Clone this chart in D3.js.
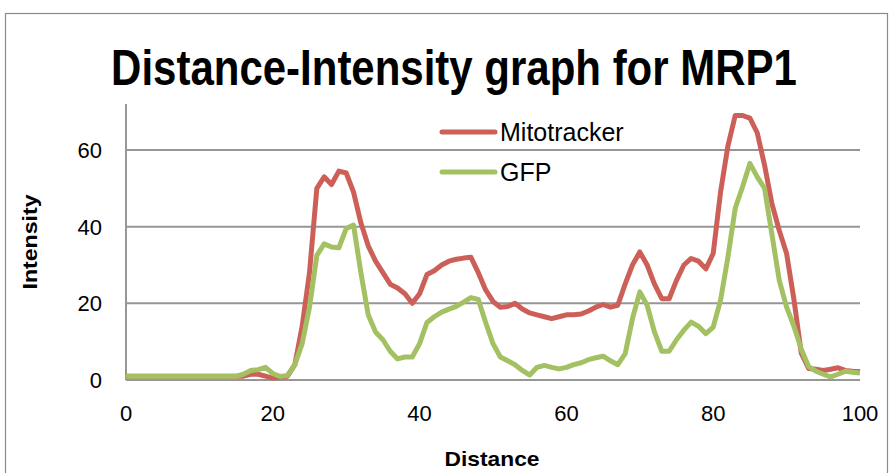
<!DOCTYPE html>
<html>
<head>
<meta charset="utf-8">
<title>Distance-Intensity graph for MRP1</title>
<script src="https://d3js.org/d3.v7.min.js"></script>
<style>
  body { margin: 0; background: #fff; }
  svg text { font-family: "Liberation Sans", Arial, sans-serif; fill: #000; }
</style>
</head>
<body>
<svg id="chart" width="890" height="473"></svg>
<script>
// distance values 0..100 (one reading per unit)
var distance = d3.range(0, 101);

// Mitotracker intensity
var mitotracker = [
  1, 1, 1, 1, 1, 1, 1, 1, 1, 1,
  1, 1, 1, 1, 1, 1, 1, 1.5, 1.5, 1,
  0.5, 0.8, 1, 4, 14, 28, 50, 53, 51, 54.5,
  54, 49, 41, 35, 31, 28, 25, 24, 22.5, 20,
  22.5, 27.5, 28.5, 30, 31, 31.5, 31.8, 32, 28, 23.5,
  20.5, 19, 19.2, 20, 18.5, 17.5, 17, 16.5, 16, 16.5,
  17, 17, 17.2, 18, 19, 19.7, 19, 19.5, 25, 30,
  33.4, 30, 25, 21.2, 21.2, 26, 30, 31.7, 31, 29,
  33, 49, 61, 69, 69, 68.3, 64.5, 56, 46, 39,
  33, 21, 7, 3, 2.8, 2.5, 2.8, 3.2, 2.5, 2.3,
  2.2
];

// GFP intensity
var gfp = [
  1, 1, 1, 1, 1, 1, 1, 1, 1, 1,
  1, 1, 1, 1, 1, 1, 1.5, 2.5, 2.7, 3.3,
  1.7, 0.9, 1.2, 4, 9.5, 19, 32.5, 35.5, 34.7, 34.5,
  39.5, 40.4, 28, 17, 12.5, 10.5, 7.5, 5.5, 6, 6,
  9.5, 15, 16.5, 17.7, 18.5, 19.2, 20.3, 21.5, 21, 15,
  9.5, 6, 5, 4, 2.5, 1.3, 3.3, 3.8, 3.3, 2.9,
  3.3, 4, 4.5, 5.3, 5.8, 6.2, 5, 4, 6.8, 16,
  23, 19.5, 12.5, 7.5, 7.5, 10.5, 13, 15.1, 14, 12.1,
  13.8, 20.8, 32, 44.8, 50.4, 56.5, 53, 50, 38, 26,
  19, 14, 8, 3.5, 2.3, 1.5, 0.8, 1.5, 2.3, 2,
  1.8
];

var xTicks = [0, 20, 40, 60, 80, 100];
var yTicks = [0, 20, 40, 60];
var seriesNames = ["Mitotracker", "GFP"];
var seriesColors = ["#CC6058", "#A3C163"];

var svg = d3.select("#chart");

// outer chart border
svg.append("rect")
  .attr("x", 5.5).attr("y", 13.5)
  .attr("width", 882).attr("height", 480)
  .attr("fill", "none")
  .attr("stroke", "#8a8a8a")
  .attr("stroke-width", 1.2);

var x = d3.scaleLinear().domain([0, 100]).range([126, 860]);
var y = d3.scaleLinear().domain([0, 72]).range([380, 104]);

// gridlines
svg.append("g")
  .selectAll("line")
  .data(yTicks)
  .enter().append("line")
  .attr("x1", x(0)).attr("x2", x(100))
  .attr("y1", function(d) { return y(d); })
  .attr("y2", function(d) { return y(d); })
  .attr("stroke", "#969696")
  .attr("stroke-width", 2);

// y axis line
svg.append("line")
  .attr("x1", x(0)).attr("x2", x(0))
  .attr("y1", y(72)).attr("y2", y(0))
  .attr("stroke", "#969696")
  .attr("stroke-width", 2);

// y tick labels
svg.append("g")
  .selectAll("text")
  .data(yTicks)
  .enter().append("text")
  .attr("x", 102)
  .attr("y", function(d) { return y(d) + 8; })
  .attr("text-anchor", "end")
  .style("font-size", "22px")
  .text(function(d) { return d; });

// x tick labels
svg.append("g")
  .selectAll("text")
  .data(xTicks)
  .enter().append("text")
  .attr("x", function(d) { return x(d); })
  .attr("y", 421)
  .attr("text-anchor", "middle")
  .style("font-size", "22px")
  .text(function(d) { return d; });

// lines
var line = d3.line()
  .x(function(d, i) { return x(distance[i]); })
  .y(function(d) { return y(d); });

[mitotracker, gfp].forEach(function(s, k) {
  svg.append("path")
    .datum(s)
    .attr("d", line)
    .attr("fill", "none")
    .attr("stroke", seriesColors[k])
    .attr("stroke-width", 5)
    .attr("stroke-linejoin", "round");
});

// legend
var legend = svg.append("g");
seriesNames.forEach(function(name, k) {
  var ly = 132 + k * 40;
  legend.append("line")
    .attr("x1", 442).attr("x2", 495)
    .attr("y1", ly).attr("y2", ly)
    .attr("stroke", seriesColors[k])
    .attr("stroke-width", 5)
    .attr("stroke-linecap", "round");
  legend.append("text")
    .attr("x", 500)
    .attr("y", ly + 9)
    .style("font-size", "25px")
    .text(name);
});

// title (condensed look: font stretched vertically)
svg.append("text")
  .attr("transform", "translate(454,85) scale(1,1.17)")
  .attr("text-anchor", "middle")
  .style("font-size", "42px")
  .style("font-weight", "bold")
  .text("Distance-Intensity graph for MRP1");

// axis titles
svg.append("text")
  .attr("x", 492)
  .attr("y", 466)
  .attr("text-anchor", "middle")
  .attr("textLength", 95)
  .attr("lengthAdjust", "spacingAndGlyphs")
  .style("font-size", "21px")
  .style("font-weight", "bold")
  .text("Distance");

svg.append("text")
  .attr("transform", "translate(37,242) rotate(-90)")
  .attr("text-anchor", "middle")
  .attr("textLength", 95)
  .attr("lengthAdjust", "spacingAndGlyphs")
  .style("font-size", "21px")
  .style("font-weight", "bold")
  .text("Intensity");
</script>
</body>
</html>
